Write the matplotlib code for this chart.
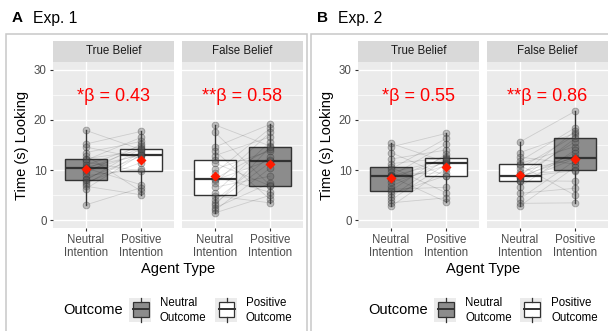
import matplotlib
matplotlib.use("Agg")
import matplotlib.pyplot as plt
from matplotlib.patches import Rectangle
from matplotlib.lines import Line2D

plt.rcParams["font.family"] = ["Liberation Sans", "DejaVu Sans"]

W, H = 608, 331

beliefs = ["True Belief", "False Belief"]
agents = ["Neutral\nIntention", "Positive\nIntention"]
outcomes = ["Neutral\nOutcome", "Positive\nOutcome"]
GRAY, WHITE = "#8C8C8C", "white"
# box fill per belief panel, ordered [neutral intention, positive intention]
fills = [[GRAY, WHITE], [WHITE, GRAY]]

# ---- Exp. 1: per-participant looking times (s), paired neutral/positive
e1_tb_neu = [17.9, 15.2, 14.6, 13.5, 12.9, 12.3, 12.0, 11.6, 11.0, 10.6, 10.4,
             10.3, 9.9, 9.4, 8.9, 8.3, 8.0, 7.6, 7.2, 6.8, 6.3, 3.1]
e1_tb_pos = [14.1, 17.7, 12.3, 15.7, 5.8, 13.8, 16.5, 9.8, 14.8, 13.0, 7.1,
             14.4, 13.2, 15.2, 10.2, 12.8, 14.3, 11.5, 13.5, 5.1, 13.1, 6.5]
e1_fb_neu = [19.0, 17.5, 14.6, 13.8, 12.9, 12.0, 11.4, 10.2, 9.5, 8.7, 8.3,
             8.0, 7.4, 6.6, 5.5, 4.9, 4.0, 3.5, 3.0, 2.5, 2.0, 1.5]
e1_fb_pos = [14.8, 7.0, 19.1, 4.2, 16.6, 11.8, 6.9, 13.8, 18.3, 5.6, 14.2,
             12.0, 17.5, 8.8, 15.6, 3.5, 12.7, 11.5, 14.6, 7.4, 10.4, 5.0]
# box summaries [TB, FB] x [neutral int., positive int.]
e1_q1 = [[8.0, 9.8], [5.0, 6.9]]
e1_med = [[10.4, 13.1], [8.3, 11.9]]
e1_q3 = [[12.3, 14.3], [12.0, 14.7]]
e1_lo = [[3.1, 5.1], [1.5, 3.5]]
e1_hi = [[17.9, 17.7], [19.0, 19.1]]
e1_mean = [[10.2, 12.1], [8.8, 11.3]]
e1_beta = ["*β = 0.43", "**β = 0.58"]

# ---- Exp. 2
e2_tb_neu = [15.3, 14.6, 13.5, 12.2, 11.3, 10.6, 10.2, 9.6, 9.1, 8.9, 8.8,
             8.7, 8.2, 7.6, 6.8, 6.2, 5.9, 5.3, 4.7, 4.1, 3.5, 2.8]
e2_tb_pos = [11.6, 17.3, 8.8, 14.0, 12.4, 5.5, 16.3, 12.0, 9.5, 11.4, 15.2,
             3.7, 12.6, 10.9, 11.8, 6.6, 13.2, 8.9, 12.2, 11.2, 4.5, 10.3]
e2_fb_neu = [15.6, 13.5, 12.6, 11.8, 11.3, 11.0, 10.4, 9.7, 9.2, 9.0, 8.9,
             8.7, 8.6, 8.4, 8.1, 7.9, 7.8, 6.7, 5.4, 4.3, 3.4, 2.9]
e2_fb_pos = [21.7, 17.3, 11.2, 18.4, 14.7, 5.0, 16.9, 12.4, 10.0, 15.6, 17.8,
             12.6, 9.9, 13.4, 16.3, 7.8, 12.3, 14.0, 6.4, 11.9, 3.5, 10.6]
e2_q1 = [[5.9, 8.8], [7.8, 10.0]]
e2_med = [[8.8, 11.5], [8.8, 12.5]]
e2_q3 = [[10.6, 12.5], [11.3, 16.3]]
e2_lo = [[2.8, 3.7], [2.9, 3.5]]
e2_hi = [[15.3, 17.3], [15.6, 21.7]]
e2_mean = [[8.5, 10.7], [9.1, 12.3]]
e2_beta = ["*β = 0.55", "**β = 0.86"]

fig = plt.figure(figsize=(W / 100, H / 100), dpi=100)


def fx(x):
    return x / W


def fy(y):
    return 1 - y / H


def draw_panel(x0, b, neu, pos, q1, med, q3, lo, hi, mean, beta, first):
    ax = fig.add_axes([fx(x0), fy(228), 121 / W, 166 / H])
    ax.set_facecolor("#EBEBEB")
    ax.set_xlim(-0.6, 1.6)
    ax.set_ylim(-1.5, 31.5)
    for v in [5, 15, 25]:
        ax.axhline(v, color="white", lw=0.5, zorder=0)
    for v in [0, 10, 20, 30]:
        ax.axhline(v, color="white", lw=1.0, zorder=0)
    for v in [0, 1]:
        ax.axvline(v, color="white", lw=1.0, zorder=0)
    stats = [dict(q1=q1[b][i], med=med[b][i], q3=q3[b][i], whislo=lo[b][i],
                  whishi=hi[b][i], fliers=[]) for i in range(2)]
    bp = ax.bxp(stats, positions=[0, 1], widths=0.75, patch_artist=True,
                showfliers=False, showcaps=False,
                boxprops=dict(edgecolor="#333333", lw=1.0),
                whiskerprops=dict(color="#333333", lw=1.0),
                medianprops=dict(color="#333333", lw=1.6))
    for patch, c in zip(bp["boxes"], fills[b]):
        patch.set_facecolor(c)
    for n, p in zip(neu, pos):
        ax.plot([0, 1], [n, p], color="black", alpha=0.13, lw=0.6, zorder=3)
    ax.scatter([0] * len(neu), neu, s=24, facecolor="#555555",
               edgecolor="#222222", alpha=0.33, lw=0.6, zorder=4)
    ax.scatter([1] * len(pos), pos, s=24, facecolor="#555555",
               edgecolor="#222222", alpha=0.33, lw=0.6, zorder=4)
    ax.scatter([0, 1], mean[b], marker="D", s=26, color="#FF1A00", zorder=5,
               lw=0)
    ax.text(0.5, 23.8, beta[b], color="#FF0000", fontsize=13, ha="center",
            va="baseline")
    for s in ax.spines.values():
        s.set_visible(False)
    ax.set_xticks([0, 1])
    ax.set_xticklabels(agents, fontsize=8.3, color="#4D4D4D", linespacing=1.2)
    ax.set_yticks([0, 10, 20, 30])
    ax.tick_params(length=2.5, color="#333333", width=0.8, pad=2)
    ax.tick_params(axis="x", pad=1.5)
    if first:
        ax.set_yticklabels(["0", "10", "20", "30"], fontsize=8.3,
                           color="#4D4D4D")
    else:
        ax.tick_params(axis="y", left=False, labelleft=False)
    # facet strip
    st = fig.add_axes([fx(x0), fy(62), 121 / W, 21 / H])
    st.set_facecolor("#D9D9D9")
    st.set_xticks([])
    st.set_yticks([])
    for s in st.spines.values():
        s.set_visible(False)
    st.text(0.5, 0.5, beliefs[b], fontsize=8.3, color="#1A1A1A",
            ha="center", va="center", transform=st.transAxes)


def draw_exp(dx, letter, title, data, q1, med, q3, lo, hi, mean, beta):
    right = 306.7 if dx == 0 else 620
    fig.add_artist(Rectangle((fx(dx + 5.7), fy(340)), (right - dx - 5.7) / W,
                             (340 - 34) / H, transform=fig.transFigure,
                             fill=False, ec="#C8C8C8", lw=1.1))
    fig.text(fx(dx + 12), fy(22.5), letter, fontsize=11, weight="bold",
             va="baseline")
    fig.text(fx(dx + 33), fy(22.5), title, fontsize=11.3, va="baseline")
    for b, x0 in enumerate([53, 182]):
        neu, pos = data[b]
        draw_panel(dx + x0, b, neu, pos, q1, med, q3, lo, hi, mean, beta,
                   b == 0)
    fig.text(fx(dx + 22), fy(145), "Time (s) Looking", rotation=90,
             fontsize=10.5, ha="center", va="center")
    fig.text(fx(dx + 178), fy(268.5), "Agent Type", fontsize=10.5,
             ha="center", va="center")
    # legend
    fig.text(fx(dx + 63), fy(310.5), "Outcome", fontsize=10.5, va="center")
    for kx, c, lab in [(129, GRAY, outcomes[0]), (215, WHITE, outcomes[1])]:
        x = dx + kx
        fig.add_artist(Rectangle((fx(x), fy(322)), 22 / W, 24 / H,
                                 transform=fig.transFigure, fc="#EBEBEB",
                                 ec="none"))
        fig.add_artist(Rectangle((fx(x + 3.5), fy(316.5)), 16 / W, 15 / H,
                                 transform=fig.transFigure, fc=c,
                                 ec="#333333", lw=0.9))
        cx = x + 11.5
        for y0, y1 in [(298, 301.5), (316.5, 322)]:
            fig.add_artist(Line2D([fx(cx), fx(cx)], [fy(y0), fy(y1)],
                                  transform=fig.transFigure, color="#333333",
                                  lw=0.9))
        fig.add_artist(Line2D([fx(x + 3.5), fx(x + 19.5)], [fy(309), fy(309)],
                              transform=fig.transFigure, color="#333333",
                              lw=1.4))
        fig.text(fx(x + 31), fy(310.5), lab, fontsize=8.3, va="center",
                 linespacing=1.25)


draw_exp(0, "A", "Exp. 1", [(e1_tb_neu, e1_tb_pos), (e1_fb_neu, e1_fb_pos)],
         e1_q1, e1_med, e1_q3, e1_lo, e1_hi, e1_mean, e1_beta)
draw_exp(305, "B", "Exp. 2", [(e2_tb_neu, e2_tb_pos), (e2_fb_neu, e2_fb_pos)],
         e2_q1, e2_med, e2_q3, e2_lo, e2_hi, e2_mean, e2_beta)

fig.savefig("out.png", dpi=100, facecolor="white")
